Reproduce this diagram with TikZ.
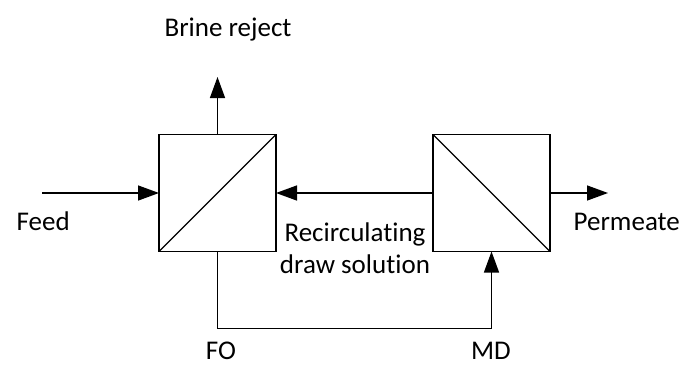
\documentclass[tikz,border=0pt]{standalone}
\usepackage{fontspec}
\setmainfont[Ligatures=NoCommon]{Carlito}
\usetikzlibrary{arrows.meta}
\begin{document}
\begin{tikzpicture}[x=1pt,y=1pt,
  line width=1.4pt,
  flow/.style={-{Triangle[length=21pt,width=15pt]}},
  module/.style={draw,minimum size=117pt,inner sep=0pt,outer sep=0pt},
  label/.style={font=\fontsize{27}{32}\selectfont,inner sep=0pt},
]
\useasboundingbox (0,0) rectangle (684,-367);

% membrane modules
\node[module] (fo) at (217.5,-193) {};
\node[module] (md) at (491.5,-193) {};
\draw[line width=1.2pt] (fo.south west) -- (fo.north east);
\draw[line width=1.2pt] (md.north west) -- (md.south east);

% free ends of the open streams
\coordinate (feedin) at (42,-193);
\coordinate (brineout) at (fo.north |- 0,-77);
\coordinate (permout) at (608,-193);

% streams
\draw[flow] (feedin) -- (fo.west);
\draw[flow] (fo.north) -- (brineout);
\draw[flow] (md.west) -- (fo.east);
\draw[flow] (md.east) -- (permout);
\draw[flow] (fo.south) -- ++(0,-77) -| (md.south);

% labels
\node[label,anchor=base] (brine) at (228,-36) {Brine reject};
\node[label,anchor=base west] (feed) at (16,-230) {Feed};
\node[label,anchor=base west] (perm) at (573,-230) {Permeate};
\node[label,anchor=base,align=center] (recirc) at (355,-273) {Recirculating\\draw solution};
\node[label,anchor=base] (folab) at (221,-359) {FO};
\node[label,anchor=base] (mdlab) at (491,-359) {MD};
\end{tikzpicture}
\end{document}
